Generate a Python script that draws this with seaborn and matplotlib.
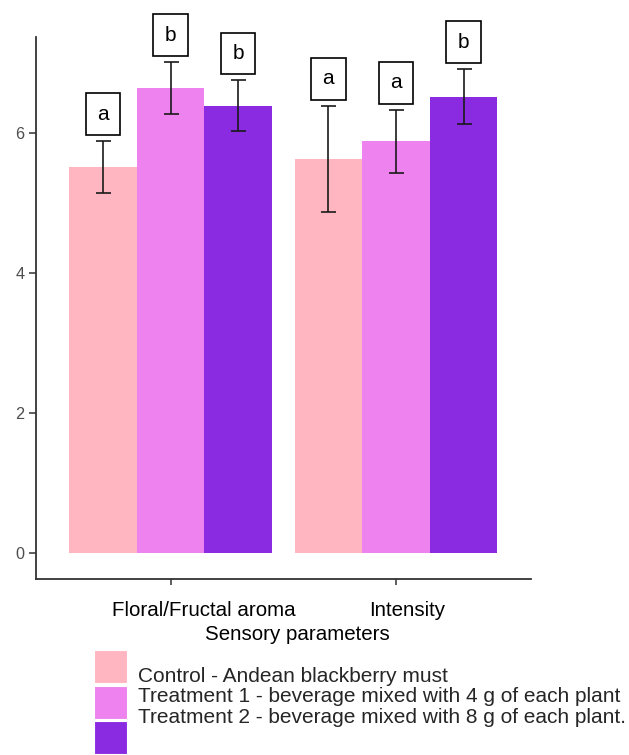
import numpy as np
import pandas as pd
import matplotlib
matplotlib.use("Agg")
import matplotlib.pyplot as plt
import seaborn as sns
from matplotlib.transforms import ScaledTranslation
from matplotlib.patches import Patch

# ---- data ----
categories = ["Floral/Fructal aroma", "Intensity"]
treatments = ["Control - Andean blackberry must",
              "Treatment 1 - beverage mixed with 4 g of each plant",
              "Treatment 2 - beverage mixed with 8 g of each plant."]
control_mean = [5.51, 5.63]
t1_mean = [6.64, 5.88]
t2_mean = [6.39, 6.52]
control_err = [0.37, 0.76]
t1_err = [0.37, 0.45]
t2_err = [0.36, 0.39]
control_letters = ["a", "a"]
t1_letters = ["b", "a"]
t2_letters = ["b", "b"]
yticks = [0, 2, 4, 6]
colors = ["#FFB6C1", "#EE82EE", "#8A2BE2"]

rows = []
for t, m, e, l in zip(treatments,
                      [control_mean, t1_mean, t2_mean],
                      [control_err, t1_err, t2_err],
                      [control_letters, t1_letters, t2_letters]):
    for c, mi, ei, li in zip(categories, m, e, l):
        rows.append(dict(category=c, treatment=t, mean=mi, err=ei, letter=li))
df = pd.DataFrame(rows)

sns.set_style("ticks")
plt.rcParams["font.family"] = ["Liberation Sans", "DejaVu Sans"]

W, H = 629, 755
fig = plt.figure(figsize=(W / 100, H / 100), dpi=100)
ax = fig.add_axes([36 / W, (H - 579) / H, 494.7 / W, 542 / H])

sns.barplot(data=df, x="category", y="mean", hue="treatment",
            order=categories, hue_order=treatments, palette=colors,
            width=0.9, gap=0, errorbar=None, saturation=1, linewidth=0,
            ax=ax)
if ax.get_legend() is not None:
    ax.get_legend().remove()

# error bars and letter boxes
for cont, t in zip(ax.containers, treatments):
    sub = df[df["treatment"] == t].set_index("category").loc[categories]
    xs = [p.get_x() + p.get_width() / 2 for p in cont.patches]
    hs = [p.get_height() for p in cont.patches]
    ax.errorbar(xs, hs, yerr=sub["err"].values, fmt="none", ecolor="#1a1a1a",
                elinewidth=1.2, capsize=5.4, capthick=1.2, zorder=3)
    for x, h, e, lt in zip(xs, hs, sub["err"].values, sub["letter"].values):
        ax.annotate(lt, xy=(x, h + e), xytext=(0, 12.6), textcoords="offset points",
                    ha="center", va="bottom", fontsize=15, color="black",
                    bbox=dict(boxstyle="square,pad=0.55", fc="white", ec="black", lw=1.2),
                    zorder=4)

ax.set_xlim(-0.597, 1.598)
ax.set_ylim(-0.371, 7.371)
ax.set_yticks(yticks)
ax.set_yticklabels([str(v) for v in yticks])
sns.despine(ax=ax)
for s in ["left", "bottom"]:
    ax.spines[s].set_color("#333333")
    ax.spines[s].set_linewidth(1.3)
ax.tick_params(axis="y", length=4.8, width=1.1, color="#333333", labelsize=11.7,
               labelcolor="#4D4D4D", pad=3.6)
ax.tick_params(axis="x", length=4, width=1.1, color="#333333", labelsize=14.8,
               labelcolor="black", pad=12)
ax.set_ylabel("")
ax.set_xlabel("Sensory parameters", fontsize=14.8, color="black")
ax.xaxis.set_label_coords((297.5 - 36) / 494.7, -(625.3 - 579) / 542)

# shift x tick labels as in reference
for lab, dx in zip(ax.get_xticklabels(), [33, 10.7]):
    lab.set_transform(lab.get_transform() + ScaledTranslation(dx / 100, 0, fig.dpi_scale_trans))

# legend: keys
fs = 15
fpx = fs * 100 / 72
key_px = 33
key_handles = [Patch(facecolor=c, edgecolor="white", linewidth=0.8) for c in colors]
leg1 = fig.legend(key_handles, ["", "", ""], loc="upper left",
                  bbox_to_anchor=(94 / W, 1 - 650 / H), frameon=False,
                  borderpad=0, borderaxespad=0, handlelength=key_px / fpx,
                  handleheight=(key_px / fpx - 0.245) / 0.65,
                  labelspacing=2.5 / fpx, handletextpad=0, fontsize=fs)
# legend: labels
txt_handles = [Patch(facecolor="none", edgecolor="none") for _ in colors]
leg2 = fig.legend(txt_handles, treatments, loc="upper left",
                  bbox_to_anchor=(138 / W, 1 - 667 / H), frameon=False,
                  borderpad=0, borderaxespad=0, handlelength=0,
                  handletextpad=0, labelspacing=0.07, fontsize=fs)

fig.savefig("out.png", dpi=100)
